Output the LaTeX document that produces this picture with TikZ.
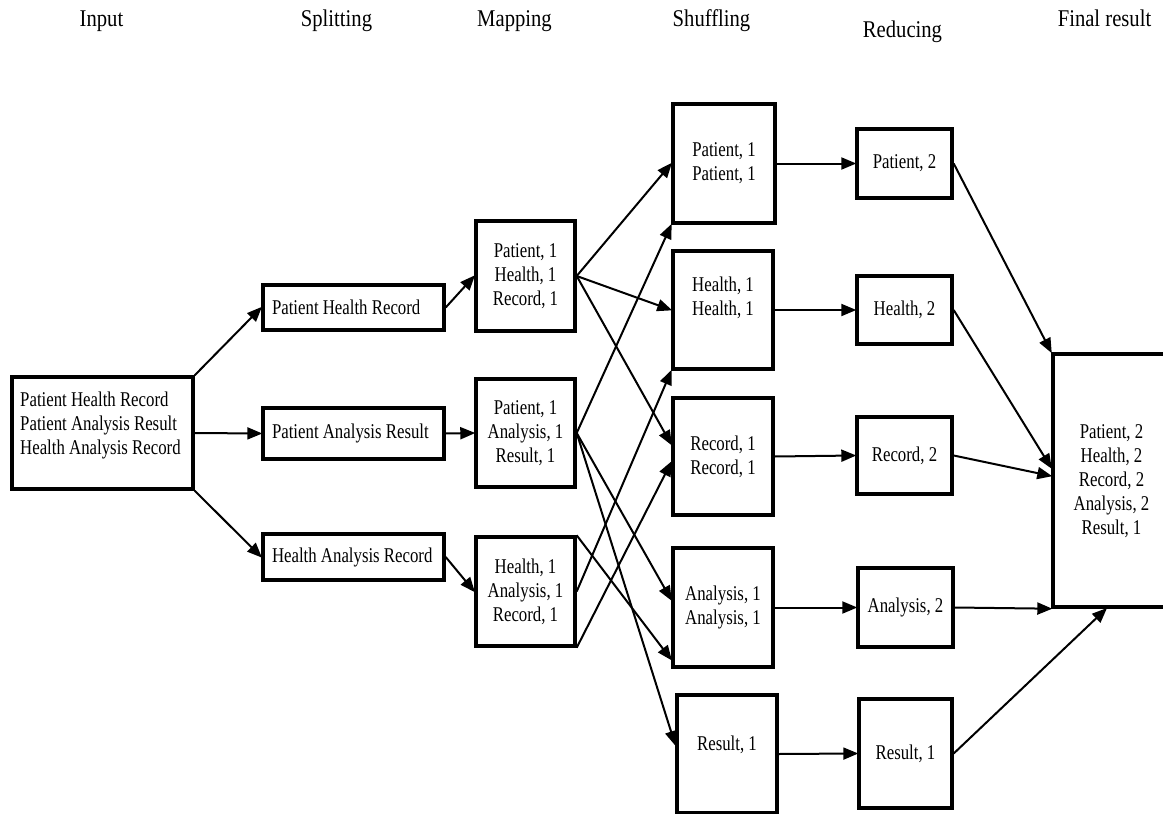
\documentclass[tikz,border=0pt]{standalone}
\usepackage{fontspec}
\setmainfont{Liberation Serif}[FakeStretch=0.8]
\newfontfamily\hdrfont{Liberation Serif}[FakeStretch=0.86]
\usetikzlibrary{arrows.meta}
\newcommand{\lefttext}[1]{\makebox[163pt][l]{#1}}
\tikzset{
  box/.style={draw, line width=3.4pt, inner sep=0pt, align=center,
    font=\fontsize{21}{24}\selectfont},
  split/.style={box, minimum width=181pt},
  txt/.style={inner sep=0pt, align=center, font=\fontsize{21}{24}\selectfont},
  hdr/.style={inner sep=0pt, anchor=base, font=\hdrfont\fontsize{24}{26}\selectfont},
  arr/.style={line width=2pt, -{Triangle[length=15pt,width=12pt]}, shorten >=-1pt}
}
\begin{document}
\begin{tikzpicture}[x=1pt,y=-1pt]
\useasboundingbox (0,0) rectangle (1163,814);
\clip (0,0) rectangle (1163,814);
\fill[white] (0,0) rectangle (1163,814);

% headers
\node[hdr] (hIn)  at (101.5,26) {Input};
\node[hdr] (hSp)  at (336.5,26) {Splitting};
\node[hdr] (hMa)  at (514.5,26) {Mapping};
\node[hdr] (hSh)  at (711.5,26) {Shuffling};
\node[hdr] (hRe)  at (902.5,37) {Reducing};
\node[hdr] (hFi)  at (1104.5,26) {Final result};

% input
\node[box, minimum width=181pt, minimum height=112pt] (in) at (102.5,433) {};
\node[txt, align=left, anchor=west] (intxt) at (20,425)
  {Patient Health Record\\Patient Analysis Result\\Health Analysis Record};

% splitting
\node[split, minimum height=45pt] (phr) at (353.5,307.5) {\lefttext{Patient Health Record}};
\node[split, minimum height=51pt] (par) at (353.5,433.5) {\lefttext{Patient Analysis Result}};
\node[split, minimum height=46pt] (har) at (353.5,557) {\lefttext{Health Analysis Record}};

% mapping
\node[box, minimum width=99pt, minimum height=110pt] (m1) at (525.5,276) {Patient, 1\\Health, 1\\Record, 1};
\node[box, minimum width=99pt, minimum height=108pt] (m2) at (525.5,433) {Patient, 1\\Analysis, 1\\Result, 1};
\node[box, minimum width=99pt, minimum height=109pt] (m3) at (525.5,591.5) {Health, 1\\Analysis, 1\\Record, 1};

% shuffling
\node[box, minimum width=102pt, minimum height=119pt] (s1) at (724,163.5) {Patient, 1\\Patient, 1};
\node[box, minimum width=100pt, minimum height=118pt] (s2) at (723,310) {};
\node[txt] (s2txt) at (723,298) {Health, 1\\Health, 1};
\node[box, minimum width=100pt, minimum height=117pt] (s3) at (723,456.5) {Record, 1\\Record, 1};
\node[box, minimum width=100pt, minimum height=119pt] (s4) at (723,607.5) {Analysis, 1\\Analysis, 1};
\node[box, minimum width=100pt, minimum height=118pt] (s5) at (727,754) {};
\node[txt] (s5txt) at (727,745) {Result, 1};

% reducing
\node[box, minimum width=95pt, minimum height=69pt] (r1) at (904.5,163.5) {Patient, 2};
\node[box, minimum width=95pt, minimum height=68pt] (r2) at (904.5,310) {Health, 2};
\node[box, minimum width=95pt, minimum height=77pt] (r3) at (904.5,455.5) {Record, 2};
\node[box, minimum width=95pt, minimum height=79pt] (r4) at (905.5,607.5) {Analysis, 2};
\node[box, minimum width=93pt, minimum height=109pt] (r5) at (905.5,753.5) {Result, 1};

% final
\node[box, minimum width=120pt, minimum height=253pt] (f) at (1113,480.5) {};
\node[txt] (ftxt) at (1111.5,481) {Patient, 2\\Health, 2\\Record, 2\\Analysis, 2\\Result, 1};

% input -> splitting
\draw[arr] (in.north east) -- (phr.west);
\draw[arr] (in.east) -- (par.west);
\draw[arr] (in.south east) -- (har.west);

% splitting -> mapping
\draw[arr] (phr.east) -- (m1.west);
\draw[arr] (par.east) -- (m2.west);
\draw[arr] (har.east) -- (m3.west);

% mapping -> shuffling
\draw[arr] (m1.east) -- (s1.west);
\draw[arr] (m1.east) -- (s2.west);
\draw[arr] (m1.east) -- ([yshift=12pt]s3.west);
\draw[arr] (m2.east) -- (s1.south west);
\draw[arr] (m2.east) -- ([yshift=7.5pt]s4.west);
\draw[arr] (m2.east) -- ([yshift=9pt]s5.west);
\draw[arr] (m3.north east) -- ([yshift=9pt]s4.south west);
\draw[arr] (m3.east) -- (s2.south west);
\draw[arr] (m3.south east) -- ([yshift=-5.5pt]s3.west);

% shuffling -> reducing
\draw[arr] (s1.east) -- (r1.west);
\draw[arr] (s2.east) -- (r2.west);
\draw[arr] (s3.east) -- (r3.west);
\draw[arr] (s4.east) -- (r4.west);
\draw[arr] (s5.east) -- (r5.west);

% reducing -> final
\draw[arr] (r1.east) -- (f.north west);
\draw[arr] (r2.east) -- ([yshift=12.5pt]f.west);
\draw[arr] (r3.east) -- ([yshift=4.5pt]f.west);
\draw[arr] (r4.east) -- (f.south west);
\draw[arr] (r5.east) -- ([xshift=55pt]f.south west);
\end{tikzpicture}
\end{document}
